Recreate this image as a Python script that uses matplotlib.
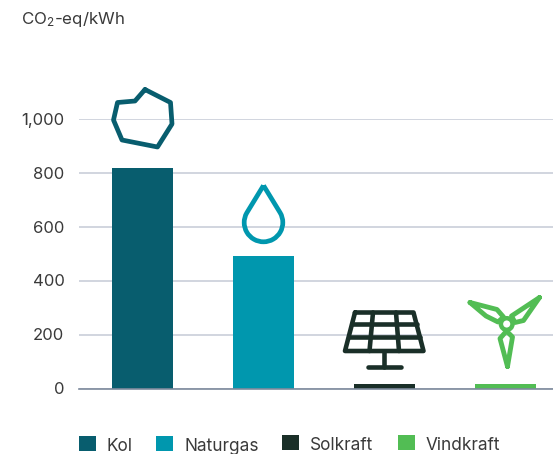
import matplotlib
matplotlib.use('Agg')
import matplotlib.pyplot as plt
from matplotlib.patches import PathPatch, Rectangle, Circle
from matplotlib.path import Path
from matplotlib.transforms import Affine2D

plt.rcParams['font.family'] = ['Inter', 'DejaVu Sans']
plt.rcParams['mathtext.default'] = 'regular'

# Data
categories = ['Kol', 'Naturgas', 'Solkraft', 'Vindkraft']
values = [817, 490, 15, 15]
colors = ['#085D6E', '#0097AE', '#1A2F28', '#52BD54']
yticks = [0, 200, 400, 600, 800, 1000]
ytick_labels = ['0', '200', '400', '600', '800', '1,000']
text_col = '#3A3A3A'

W, H = 553, 454
fig = plt.figure(figsize=(W/100, H/100), dpi=100)

# axes placed so that 0 is at y=388.5 and 1000 at y=118.5 (pixels from top)
ax = fig.add_axes([79/W, 1-388.5/H, (W-79)/W, 270/H])
pos = [0, 1, 2, 3]
ax.bar(pos, values, width=61/121, color=colors, zorder=2)
ax.set_xlim(-63.5/121, (553-142.5)/121)
ax.set_ylim(0, 1000)
ax.set_xticks([])
ax.set_yticks(yticks)
ax.set_yticklabels(ytick_labels, fontsize=12, color=text_col)
ax.tick_params(axis='y', length=0, pad=10.5)
ax.grid(axis='y', color='#C5CAD6', linewidth=1.1, zorder=1)
for s in ['top', 'right', 'left']:
    ax.spines[s].set_visible(False)
ax.spines['bottom'].set_color('#7D8A9C')
ax.spines['bottom'].set_linewidth(1.2)

# everything below is in image pixels, y down
px = Affine2D().scale(1, -1).translate(0, H)


def outline(pts, col, lw, closed=True):
    if closed:
        pts = pts + [pts[0]]
    codes = [Path.MOVETO] + [Path.LINETO]*(len(pts)-1)
    fig.add_artist(PathPatch(Path(pts, codes), fill=False, edgecolor=col, linewidth=lw,
                             joinstyle='round', capstyle='round', transform=px))


# coal
outline([(145, 89.5), (170.5, 102.5), (172, 124), (157.5, 147), (122, 140),
         (113.5, 120), (117.5, 102.5), (135, 101)], colors[0], 3.4)

# gas drop: arc around the bottom, straight sides up to the tip
arc = Path.arc(-30.4, 209.6)
drop_tf = Affine2D().scale(19.3).translate(263.5, 222.5)
arc_pts = [tuple(p) for p in drop_tf.transform(arc.vertices)]
drop = Path([(263.5, 185.5)] + [arc_pts[0]] + arc_pts[1:] + [(263.5, 185.5)],
            [Path.MOVETO, Path.LINETO] + list(arc.codes[1:]) + [Path.LINETO])
fig.add_artist(PathPatch(drop, fill=False, edgecolor=colors[1], linewidth=3.4,
                         joinstyle='round', transform=px))

# solar panel
sc = colors[2]
slw = 3.3
outline([(355, 312.5), (413.5, 312.5), (423.5, 351), (345, 351)], sc, slw)
outline([(351.5, 324), (417, 324)], sc, slw, False)
outline([(348.5, 337), (420, 337)], sc, slw, False)
outline([(373, 312.5), (369.5, 351)], sc, slw, False)
outline([(396, 312.5), (399, 351)], sc, slw, False)
outline([(384, 351), (384, 366.5)], sc, slw, False)
outline([(368, 366.5), (401, 366.5)], sc, slw, False)

# wind turbine
wc = colors[3]
wlw = 3.5
outline([(470, 302.5), (497, 309.5), (503.5, 317), (498, 322), (486, 316)], wc, wlw)
outline([(539.5, 297.5), (523.5, 320.5), (515, 322.5), (511.5, 316)], wc, wlw)
outline([(507.5, 366.5), (512.5, 337), (506.5, 331), (500, 338.5)], wc, wlw)
fig.add_artist(Circle((506.7, 324), 5.8, fill=False, edgecolor=wc, linewidth=3.2, transform=px))

# title
fig.text(21/W, 1-24/H, 'CO$_2$-eq/kWh', fontsize=12.2, color=text_col, ha='left', va='baseline')

# legend
sq_x = [79, 156, 282, 398]
sq_y = [436, 436, 435, 435]
txt_x = [107, 184, 310, 426]
txt_y = [451, 451, 450, 450]
for i in range(4):
    fig.add_artist(Rectangle((sq_x[i], sq_y[i]), 17, 15, facecolor=colors[i], edgecolor='none', transform=px))
    fig.text(txt_x[i]/W, 1-txt_y[i]/H, categories[i], fontsize=12.4, color=text_col, ha='left', va='baseline')

fig.savefig('out.png', dpi=100)
